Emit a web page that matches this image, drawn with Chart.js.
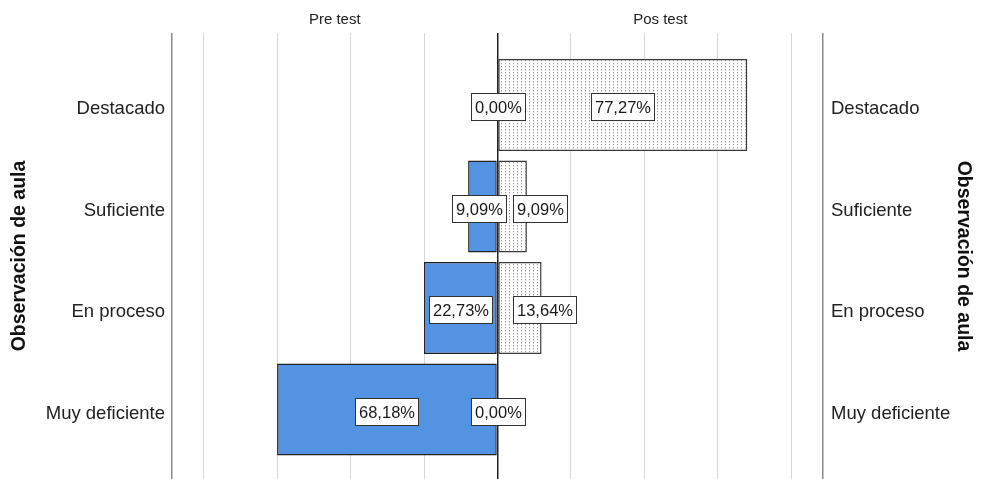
<!DOCTYPE html>
<html>
<head>
<meta charset="utf-8">
<script src="https://cdn.jsdelivr.net/npm/chart.js@4.4.1/dist/chart.umd.min.js"></script>
<style>
  html, body { margin: 0; padding: 0; background: #ffffff; }
  #wrap { width: 986px; height: 479px; }
</style>
</head>
<body>
<div id="wrap"><canvas id="c" width="986" height="479"></canvas></div>
<script>
// ---- data (n = 22) ----
const categories = ['Destacado', 'Suficiente', 'En proceso', 'Muy deficiente'];
const panelTitles = ['Pre test', 'Pos test'];
const axisTitle = 'Observación de aula';
const preCounts = [0, 2, 5, 15];
const posCounts = [17, 2, 3, 0];
const prePct = [0.00, 9.09, 22.73, 68.18];
const posPct = [77.27, 9.09, 13.64, 0.00];
const gridValues = [-22.15, -20, -15, -10, -5, 0, 5, 10, 15, 20, 22.15];

const FONT = "'Liberation Sans', Arial, sans-serif";

function makePattern() {
  const t = document.createElement('canvas');
  t.width = 4; t.height = 3;
  const g = t.getContext('2d');
  g.fillStyle = '#ffffff';
  g.fillRect(0, 0, 4, 3);
  g.fillStyle = '#9c9c9c';
  g.fillRect(1, 0, 1, 1);
  g.fillStyle = '#dadada';
  g.fillRect(1, 1, 1, 1);
  return document.getElementById('c').getContext('2d').createPattern(t, 'repeat');
}

function fmt(v) { return v.toFixed(2).replace('.', ',') + '%'; }

const labelPlugin = {
  id: 'boxLabels',
  afterDatasetsDraw(chart) {
    const ctx = chart.ctx;
    const zero = chart.scales.x.getPixelForValue(0);
    const pcts = [prePct, posPct];
    ctx.save();
    ctx.font = '16.5px ' + FONT;
    ctx.textAlign = 'center';
    ctx.textBaseline = 'middle';
    const boxes = [];
    [0, 1].forEach(di => {
      const meta = chart.getDatasetMeta(di);
      meta.data.forEach((el, j) => {
        const txt = fmt(pcts[di][j]);
        const tw = ctx.measureText(txt).width;
        const w = tw + 7, h = 27;
        const len = Math.abs(el.x - el.base);
        let cx;
        if (pcts[di][j] === 0) cx = zero;
        else if (len >= w + 4) cx = (el.x + el.base) / 2;
        else if (di === 0) cx = zero + 8 - w / 2;
        else cx = zero + 15 + w / 2;
        const cy = el.y + 2;
        boxes.push({ txt, cx, cy, w, h });
      });
    });
    boxes.forEach(b => {
      const x0 = Math.round(b.cx - b.w / 2) + 0.5, y0 = Math.round(b.cy - b.h / 2) + 0.5;
      ctx.fillStyle = '#ffffff';
      ctx.fillRect(x0, y0, Math.round(b.w), b.h);
      ctx.strokeStyle = '#333333';
      ctx.lineWidth = 1;
      ctx.strokeRect(x0, y0, Math.round(b.w), b.h);
      ctx.fillStyle = '#1a1a1a';
      ctx.fillText(b.txt, x0 + Math.round(b.w) / 2, y0 + b.h / 2 + 1);
    });
    ctx.restore();
  }
};

const yMin = -0.709, yMax = 3.685;

function fitVertical(width) {
  return s => { s.width = width; s.paddingTop = 0; s.paddingBottom = 0; };
}

new Chart(document.getElementById('c'), {
  type: 'bar',
  data: {
    datasets: [
      {
        label: panelTitles[0],
        data: preCounts.map((v, i) => ({ x: -v, y: i })),
        backgroundColor: '#5493E1',
        borderColor: '#222222',
        borderWidth: 1.5,
        borderSkipped: false,
        barPercentage: 1,
        categoryPercentage: 0.906,
        yAxisID: 'y',
        xAxisID: 'x'
      },
      {
        label: panelTitles[1],
        data: posCounts.map((v, i) => ({ x: v, y: i })),
        backgroundColor: makePattern(),
        borderColor: '#3a3a3a',
        borderWidth: 1.5,
        borderSkipped: false,
        barPercentage: 1,
        categoryPercentage: 0.906,
        yAxisID: 'y',
        xAxisID: 'x'
      }
    ]
  },
  options: {
    indexAxis: 'y',
    responsive: false,
    animation: false,
    devicePixelRatio: 1,
    layout: { padding: 0 },
    plugins: { legend: { display: false }, tooltip: { enabled: false } },
    scales: {
      x: {
        type: 'linear',
        position: 'bottom',
        stacked: true,
        offset: false,
        min: gridValues[0],
        max: gridValues[gridValues.length - 1],
        afterBuildTicks: s => { s.ticks = gridValues.map(v => ({ value: v })); },
        afterFit: s => { s.height = 0; s.paddingLeft = 0; s.paddingRight = 0; },
        ticks: { display: false },
        border: { display: false },
        grid: {
          drawTicks: false,
          offset: false,
          color: c => {
            const v = c.tick.value;
            if (v === 0) return '#222222';
            if (Math.abs(v) > 21) return '#8c8c8c';
            return '#d6d6d6';
          },
          lineWidth: c => {
            const v = c.tick.value;
            if (v === 0) return 1.5;
            if (Math.abs(v) > 21) return 1.5;
            return 1;
          }
        }
      },
      x2: {
        type: 'linear',
        position: 'top',
        offset: false,
        min: gridValues[0],
        max: gridValues[gridValues.length - 1],
        afterBuildTicks: s => {
          const m = gridValues[gridValues.length - 1] / 2;
          s.ticks = [{ value: -m }, { value: m }];
        },
        afterFit: s => { s.height = 33; s.paddingLeft = 0; s.paddingRight = 0; },
        grid: { display: false, drawTicks: false },
        border: { display: false },
        ticks: {
          padding: 4,
          autoSkip: false,
          maxRotation: 0,
          color: '#222222',
          font: { family: FONT, size: 15 },
          callback: v => (v < 0 ? panelTitles[0] : panelTitles[1])
        }
      },
      y: {
        type: 'linear',
        position: 'left',
        reverse: true,
        stacked: true,
        offset: false,
        min: yMin,
        max: yMax,
        afterBuildTicks: s => { s.ticks = categories.map((c, i) => ({ value: i })); },
        afterFit: fitVertical(172),
        grid: { display: false, drawTicks: false, offset: false },
        border: { display: false },
        ticks: {
          padding: 7,
          labelOffset: 4,
          autoSkip: false,
          color: '#222222',
          font: { family: FONT, size: 18.5 },
          callback: v => categories[v]
        },
        title: {
          display: true,
          text: axisTitle,
          color: '#111111',
          font: { family: FONT, size: 19.5, weight: 'bold' },
          padding: { top: 8, bottom: 0 }
        }
      },
      y2: {
        type: 'linear',
        position: 'right',
        reverse: true,
        offset: false,
        min: yMin,
        max: yMax,
        afterBuildTicks: s => { s.ticks = categories.map((c, i) => ({ value: i })); },
        afterFit: fitVertical(163),
        grid: { display: false, drawTicks: false },
        border: { display: false },
        ticks: {
          padding: 8,
          labelOffset: 4,
          autoSkip: false,
          color: '#222222',
          font: { family: FONT, size: 18.5 },
          callback: v => categories[v]
        },
        title: {
          display: true,
          text: axisTitle,
          color: '#111111',
          font: { family: FONT, size: 19.5, weight: 'bold' },
          padding: { top: 11, bottom: 0 }
        }
      }
    }
  },
  plugins: [labelPlugin]
});
</script>
</body>
</html>
